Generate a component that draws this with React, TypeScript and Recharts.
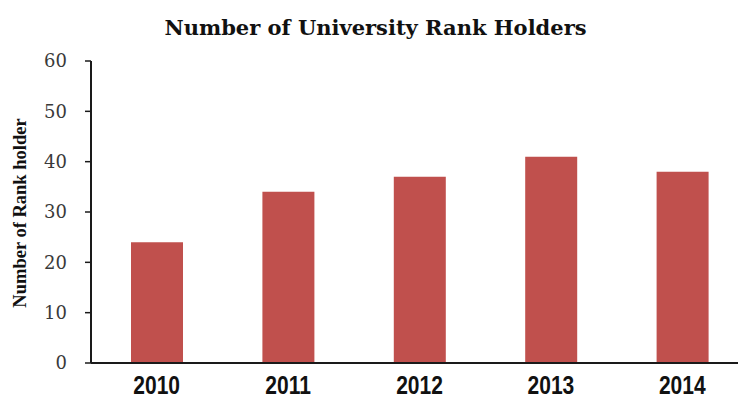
import { Bar, BarChart, XAxis, YAxis } from 'recharts';

const years = ['2010', '2011', '2012', '2013', '2014'];
const rankHolders = [24, 34, 37, 41, 38];
const yTicks = [0, 10, 20, 30, 40, 50, 60];

const data = years.map((year, i) => ({ year, holders: rankHolders[i] }));

// year labels in the source look narrow and tall, so stretch them a bit
function YearTick({ x, y, payload }: any) {
    return (
        <text
            transform={`translate(${x}, ${y + 23}) scale(1, 1.25)`}
            textAnchor="middle"
            fontFamily="'Liberation Sans', Arial, sans-serif"
            fontWeight="bold"
            fontSize={21}
            fill="#111"
        >
            {payload.value}
        </text>
    );
}

export default function App() {
    return (
        <div
            style={{
                position: 'absolute',
                left: 0,
                top: 0,
                width: 738,
                height: 401,
                overflow: 'hidden',
                background: '#fff',
            }}
        >
            <div
                style={{
                    position: 'absolute',
                    left: 0,
                    top: 17,
                    width: 751,
                    textAlign: 'center',
                    fontFamily: "'DejaVu Serif', serif",
                    fontWeight: 'bold',
                    fontSize: 21,
                    lineHeight: '21px',
                    color: '#111',
                }}
            >
                Number of University Rank Holders
            </div>
            <div
                style={{
                    position: 'absolute',
                    left: -130,
                    top: 203,
                    width: 300,
                    height: 20,
                    lineHeight: '20px',
                    textAlign: 'center',
                    transform: 'rotate(-90deg)',
                    fontFamily: "'Liberation Serif', serif",
                    fontWeight: 'bold',
                    fontSize: 18.5,
                    color: '#111',
                }}
            >
                Number of Rank holder
            </div>
            <BarChart
                width={760}
                height={401}
                data={data}
                margin={{ top: 61, right: 12, bottom: 0, left: 0 }}
                style={{ position: 'absolute', left: 0, top: 0 }}
            >
                <XAxis
                    dataKey="year"
                    height={38}
                    tickLine={false}
                    axisLine={{ stroke: '#1a1a1a', strokeWidth: 2 }}
                    tick={<YearTick />}
                />
                <YAxis
                    width={91}
                    domain={[0, 60]}
                    ticks={yTicks}
                    interval={0}
                    tickSize={6}
                    tickMargin={18}
                    axisLine={{ stroke: '#1a1a1a', strokeWidth: 2 }}
                    tickLine={{ stroke: '#1a1a1a', strokeWidth: 1.5 }}
                    tick={{
                        fontFamily: "'DejaVu Serif', serif",
                        fontSize: 18,
                        fill: '#3a3a3a',
                    }}
                />
                <Bar dataKey="holders" fill="#C0504D" barSize={52} isAnimationActive={false} />
            </BarChart>
        </div>
    );
}
